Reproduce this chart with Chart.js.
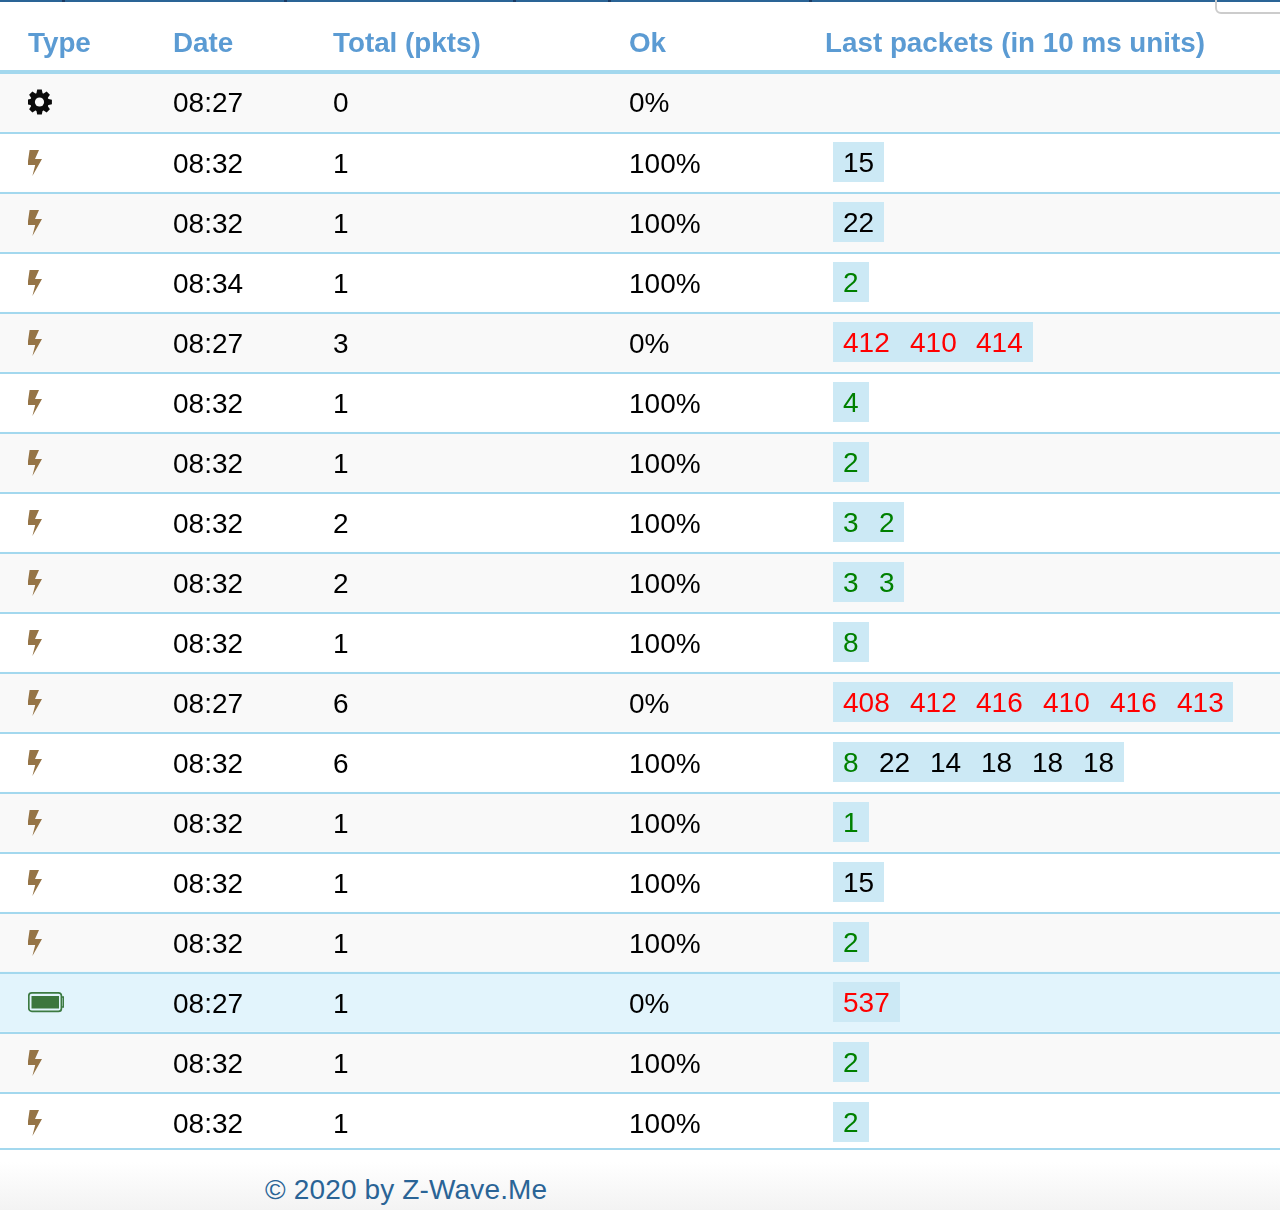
<!DOCTYPE html>
<html><head><meta charset="utf-8">
<script src="https://cdn.jsdelivr.net/npm/chart.js@4"></script>
<style>
html,body{margin:0;padding:0;background:#fff;width:1280px;height:1210px;overflow:hidden;font-family:"Liberation Sans",Arial,sans-serif}
#wrap{position:relative;width:1280px;height:1210px}
canvas{position:absolute;left:0;top:0}
#topbar{position:absolute;left:0;top:0;width:1280px;height:2px;background:#2a6496}
.tk{position:absolute;top:0;width:3px;height:2px;background:#1c3a63}
#box{position:absolute;left:1215px;top:-8px;width:80px;height:18px;border:2px solid #ccc;border-radius:6px;box-sizing:content-box}
#foot{position:absolute;left:0;top:1150px;width:1280px;height:60px;background:linear-gradient(#fff 0%,#fff 20%,#f3f3f3 100%)}
#foot span{position:absolute;left:265px;top:24px;font-size:28px;line-height:32px;letter-spacing:.15px;color:#2a6496;white-space:nowrap}
</style></head>
<body><div id="wrap">
<canvas id="c" width="1280" height="1210"></canvas>
<div id="topbar"></div>
<div class="tk" style="left:62px"></div><div class="tk" style="left:284px"></div><div class="tk" style="left:513px"></div><div class="tk" style="left:608px"></div><div class="tk" style="left:809px"></div>
<div id="box"></div>
<div id="foot"><span id="ft"></span></div>
</div>
<script>
const footerText = "© 2020 by Z-Wave.Me";
const headers = ["Type","Date","Total (pkts)","Ok","Last packets (in 10 ms units)"];
const types = ["gear","bolt","bolt","bolt","bolt","bolt","bolt","bolt","bolt","bolt","bolt","bolt","bolt","bolt","bolt","battery","bolt","bolt"];
const dates = ["08:27","08:32","08:32","08:34","08:27","08:32","08:32","08:32","08:32","08:32","08:27","08:32","08:32","08:32","08:32","08:27","08:32","08:32"];
const totals = [0,1,1,1,3,1,1,2,2,1,6,6,1,1,1,1,1,1];
const okPct = [0,100,100,100,0,100,100,100,100,100,0,100,100,100,100,0,100,100];
const packets = [[],[15],[22],[2],[412,410,414],[4],[2],[3,2],[3,3],[8],[408,412,416,410,416,413],[8,22,14,18,18,18],[1],[15],[2],[537],[2],[2]];

const rows = dates.map((_, i) => String(i + 1));
const FONT = '28px "Liberation Sans"';
const colX = [28, 173, 333, 629, 825];
const chipX = 833, PAD = 10, TABLE_W = 1280;
const measure = document.createElement('canvas').getContext('2d');
measure.font = FONT;
const chips = packets.map(list => {
  let x = chipX;
  return list.map(v => {
    const w = measure.measureText(String(v)).width + PAD * 2;
    const c = [Math.round(x), Math.round(x + w)];
    x += w;
    return c;
  });
});
const maxPk = Math.max(...packets.map(p => p.length));
const chipColor = v => v <= 10 ? '#008000' : v >= 100 ? '#ff0000' : '#000000';
const bandColor = i => types[i] === 'battery' ? '#e2f4fc' : (i % 2 === 0 ? '#f9f9f9' : '#ffffff');

function icon(kind) {
  const c = document.createElement('canvas'); c.width = 48; c.height = 40;
  const g = c.getContext('2d');
  if (kind === 'gear') {
    g.fillStyle = '#0a0a0a'; g.translate(11.5, 20);
    g.beginPath(); g.arc(0, 0, 9.3, 0, Math.PI * 2); g.fill();
    for (let k = 0; k < 8; k++) { g.save(); g.rotate(k * Math.PI / 4); g.beginPath(); g.moveTo(-3.2, -8); g.lineTo(-2.3, -12.4); g.lineTo(2.3, -12.4); g.lineTo(3.2, -8); g.closePath(); g.fill(); g.restore(); }
    g.globalCompositeOperation = 'destination-out'; g.beginPath(); g.arc(0, 0, 4.6, 0, Math.PI * 2); g.fill();
  } else if (kind === 'bolt') {
    g.fillStyle = '#957446'; g.translate(0, 20);
    const p = [[1.6,-12],[11,-12],[7,-3],[14,-3],[4.4,14],[7.2,3],[-0.6,3]];
    g.beginPath(); p.forEach((q, i) => i ? g.lineTo(q[0], q[1]) : g.moveTo(q[0], q[1])); g.closePath(); g.fill();
  } else {
    g.translate(0, 20);
    g.strokeStyle = '#3c7a41'; g.lineWidth = 1.7; g.fillStyle = '#3c763d';
    g.beginPath(); g.roundRect(0.8, -9.2, 32.6, 18.6, 3); g.stroke();
    g.fillRect(3.5, -6, 27.5, 12.5);
    g.lineWidth = 1.4; g.beginPath(); g.moveTo(33.5, -5); g.lineTo(35.3, -5); g.lineTo(35.3, 5); g.lineTo(33.5, 5); g.stroke();
  }
  return c;
}
const iconMap = { gear: icon('gear'), bolt: icon('bolt'), battery: icon('battery') };

const datasets = [{
  type: 'bar', label: 'rows', order: 20, grouped: false, barPercentage: 1, categoryPercentage: 1,
  data: rows.map(() => [0, TABLE_W]), backgroundColor: rows.map((_, i) => bandColor(i)), borderWidth: 0
}];
for (let k = 0; k < maxPk; k++) {
  datasets.push({
    type: 'bar', label: 'packet ' + (k + 1), order: 10, grouped: false, barPercentage: 40 / 60, categoryPercentage: 1,
    data: chips.map(c => c[k] || null), backgroundColor: '#cce9f5', borderWidth: 0
  });
}
datasets.push({
  type: 'line', label: 'type', order: 1, showLine: false, indexAxis: 'y', clip: false,
  data: rows.map(r => ({ x: colX[0] + 24, y: r })),
  pointStyle: types.map(t => iconMap[t]), pointRadius: 20, pointHoverRadius: 20
});

const tablePlugin = {
  id: 'tablePlugin',
  afterDatasetsDraw(chart) {
    const { ctx, scales: { x, y } } = chart;
    ctx.save();
    ctx.fillStyle = '#a3d8ee';
    ctx.fillRect(0, 70, TABLE_W, 4);
    rows.forEach((_, i) => {
      const py = i === rows.length - 1 ? 1148 : y.getPixelForValue(i) + 30;
      ctx.fillRect(0, py, TABLE_W, 2);
    });
    ctx.font = FONT; ctx.textBaseline = 'alphabetic'; ctx.textAlign = 'left';
    rows.forEach((_, i) => {
      const py = y.getPixelForValue(i);
      const base = py + (i === 0 ? 10 : 11);
      ctx.fillStyle = '#000';
      ctx.fillText(dates[i], x.getPixelForValue(colX[1]), base);
      ctx.fillText(String(totals[i]), x.getPixelForValue(colX[2]), base);
      ctx.fillText(okPct[i] + '%', x.getPixelForValue(colX[3]), base);
      packets[i].forEach((v, k) => {
        ctx.fillStyle = chipColor(v);
        ctx.fillText(String(v), x.getPixelForValue(chips[i][k][0] + PAD), py + 10);
      });
    });
    ctx.restore();
  }
};

document.getElementById('ft').textContent = footerText;
new Chart(document.getElementById('c'), {
  type: 'bar',
  data: { labels: rows, datasets },
  options: {
    indexAxis: 'y', responsive: false, animation: false, devicePixelRatio: 1,
    layout: { autoPadding: false, padding: { top: 0, left: 0, right: 0, bottom: 58 } },
    plugins: { legend: { display: false }, tooltip: { enabled: false }, title: { display: false } },
    scales: {
      x: {
        type: 'linear', position: 'top', min: 0, max: TABLE_W,
        grid: { display: false, drawTicks: false }, border: { display: false },
        afterBuildTicks: s => { s.ticks = colX.map(v => ({ value: v })); },
        afterFit: s => { s.height = 72; s.paddingLeft = 0; s.paddingRight = 0; },
        ticks: {
          autoSkip: false, maxRotation: 0, minRotation: 0, align: 'start', padding: 11, color: '#5b9bd3',
          font: { family: '"Liberation Sans"', size: 27.8, weight: 'bold' },
          callback: (v, i) => headers[i]
        }
      },
      y: { type: 'category', display: false, offset: true, grid: { display: false } }
    }
  },
  plugins: [tablePlugin]
});
</script>
</body></html>
